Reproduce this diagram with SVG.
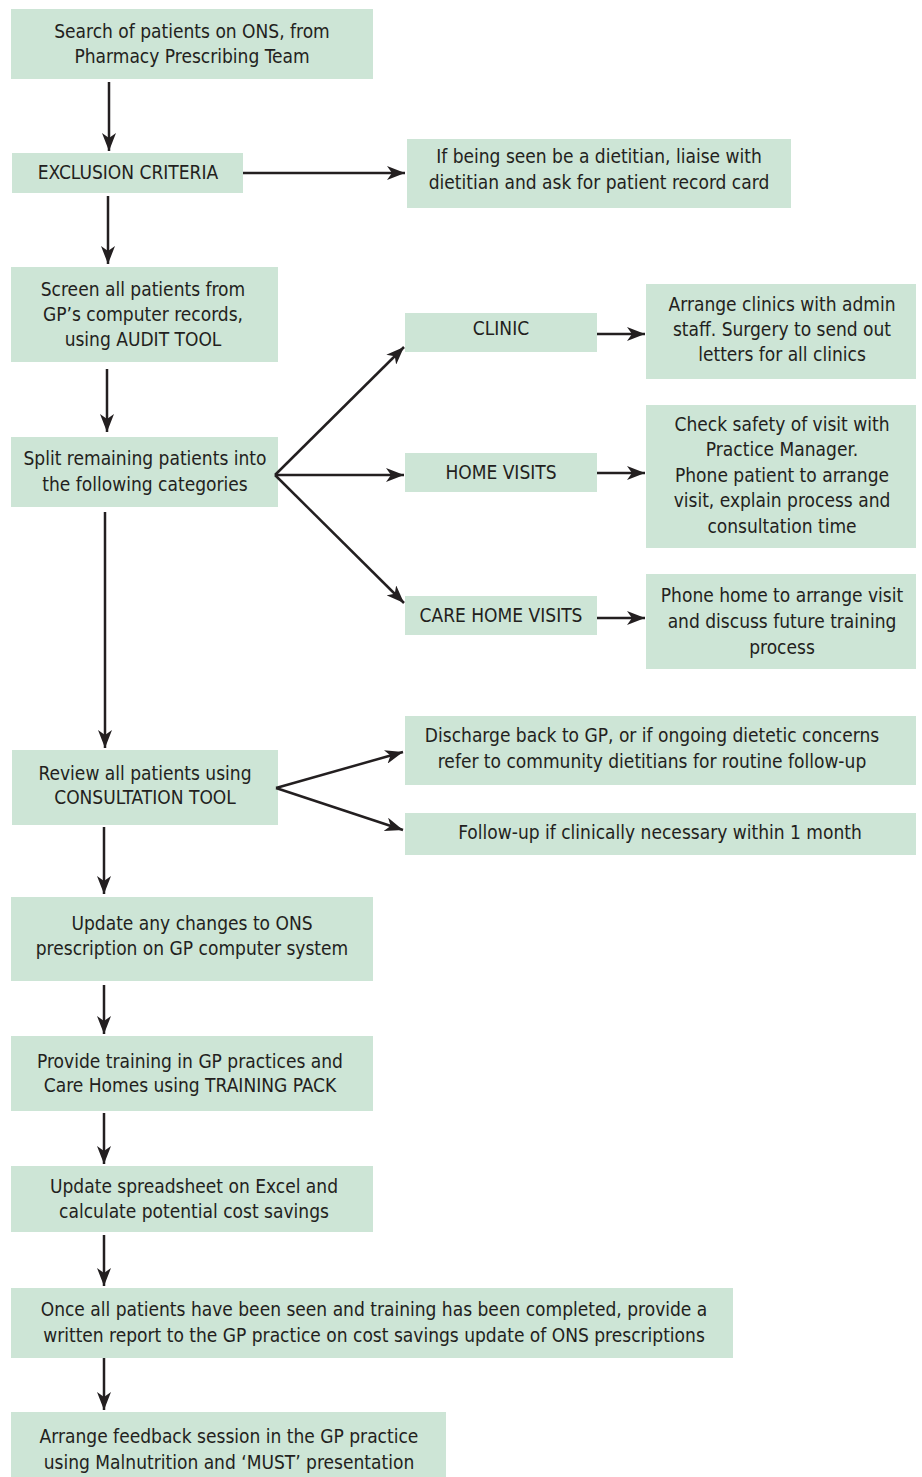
<svg xmlns="http://www.w3.org/2000/svg" width="922" height="1477" viewBox="0 0 922 1477">
<defs>
<style>
.b{fill:#cde5d6}
text{font-family:"DejaVu Sans Condensed","Liberation Sans Narrow",sans-serif;font-size:19px;fill:#231f20;text-anchor:middle;dominant-baseline:central}
.c line{stroke:#231f20;stroke-width:2.5;marker-end:url(#ah)}
</style>
<marker id="ah" markerUnits="userSpaceOnUse" markerWidth="20" markerHeight="14" viewBox="0 0 20 14" refX="18" refY="7" orient="auto">
<path d="M0,0 L18,7 L0,14 L5,7 Z" fill="#231f20"/>
</marker>
</defs>
<rect width="922" height="1477" fill="#fff"/>
<g id="n1"><rect class="b" x="11" y="9" width="362" height="70"/><text x="192" y="31">Search of patients on ONS, from</text><text x="192" y="56">Pharmacy Prescribing Team</text></g>
<g id="n2"><rect class="b" x="12" y="153" width="231" height="40"/><text x="128" y="172">EXCLUSION CRITERIA</text></g>
<g id="n3"><rect class="b" x="407" y="139" width="384" height="69"/><text x="599" y="156">If being seen be a dietitian, liaise with</text><text x="599" y="182">dietitian and ask for patient record card</text></g>
<g id="n4"><rect class="b" x="11" y="267" width="267" height="95"/><text x="143" y="289">Screen all patients from</text><text x="143" y="314">GP’s computer records,</text><text x="143" y="339">using AUDIT TOOL</text></g>
<g id="n5"><rect class="b" x="11" y="437" width="267" height="70"/><text x="145" y="458">Split remaining patients into</text><text x="145" y="484">the following categories</text></g>
<g id="n6"><rect class="b" x="405" y="313" width="192" height="39"/><text x="501" y="328">CLINIC</text></g>
<g id="n7"><rect class="b" x="405" y="453" width="192" height="39"/><text x="501" y="472">HOME VISITS</text></g>
<g id="n8"><rect class="b" x="405" y="596" width="192" height="39"/><text x="501" y="615">CARE HOME VISITS</text></g>
<g id="n9"><rect class="b" x="646" y="284" width="270" height="95"/><text x="782" y="304">Arrange clinics with admin</text><text x="782" y="329">staff. Surgery to send out</text><text x="782" y="354">letters for all clinics</text></g>
<g id="n10"><rect class="b" x="646" y="405" width="270" height="143"/><text x="782" y="424">Check safety of visit with</text><text x="782" y="449">Practice Manager.</text><text x="782" y="475">Phone patient to arrange</text><text x="782" y="500">visit, explain process and</text><text x="782" y="526">consultation time</text></g>
<g id="n11"><rect class="b" x="646" y="574" width="270" height="95"/><text x="782" y="595">Phone home to arrange visit</text><text x="782" y="621">and discuss future training</text><text x="782" y="647">process</text></g>
<g id="n12"><rect class="b" x="12" y="750" width="266" height="75"/><text x="145" y="773">Review all patients using</text><text x="145" y="797">CONSULTATION TOOL</text></g>
<g id="n13"><rect class="b" x="405" y="716" width="511" height="69"/><text x="652" y="735">Discharge back to GP, or if ongoing dietetic concerns</text><text x="652" y="761">refer to community dietitians for routine follow-up</text></g>
<g id="n14"><rect class="b" x="405" y="813" width="511" height="42"/><text x="660" y="832">Follow-up if clinically necessary within 1 month</text></g>
<g id="n15"><rect class="b" x="11" y="897" width="362" height="84"/><text x="192" y="923">Update any changes to ONS</text><text x="192" y="948">prescription on GP computer system</text></g>
<g id="n16"><rect class="b" x="11" y="1036" width="362" height="75"/><text x="190" y="1061">Provide training in GP practices and</text><text x="190" y="1085">Care Homes using TRAINING PACK</text></g>
<g id="n17"><rect class="b" x="11" y="1166" width="362" height="66"/><text x="194" y="1186">Update spreadsheet on Excel and</text><text x="194" y="1211">calculate potential cost savings</text></g>
<g id="n18"><rect class="b" x="11" y="1288" width="722" height="70"/><text x="374" y="1309">Once all patients have been seen and training has been completed, provide a</text><text x="374" y="1335">written report to the GP practice on cost savings update of ONS prescriptions</text></g>
<g id="n19"><rect class="b" x="11" y="1412" width="435" height="65"/><text x="229" y="1436">Arrange feedback session in the GP practice</text><text x="229" y="1462">using Malnutrition and ‘MUST’ presentation</text></g>
<g id="connectors" class="c">
<line x1="109" y1="82" x2="109" y2="151"/>
<line x1="243" y1="173" x2="405" y2="173"/>
<line x1="108" y1="196" x2="108" y2="264"/>
<line x1="107" y1="369" x2="107" y2="432"/>
<line x1="105" y1="512" x2="105" y2="748"/>
<line x1="275" y1="475" x2="404" y2="347"/>
<line x1="275" y1="475" x2="404" y2="475"/>
<line x1="275" y1="475" x2="404" y2="603"/>
<line x1="597" y1="334" x2="645" y2="334"/>
<line x1="597" y1="473" x2="645" y2="473"/>
<line x1="597" y1="618" x2="645" y2="618"/>
<line x1="276" y1="788" x2="403" y2="752"/>
<line x1="276" y1="788" x2="403" y2="830"/>
<line x1="104" y1="827" x2="104" y2="894"/>
<line x1="104" y1="985" x2="104" y2="1034"/>
<line x1="104" y1="1113" x2="104" y2="1164"/>
<line x1="104" y1="1235" x2="104" y2="1286"/>
<line x1="104" y1="1358" x2="104" y2="1410"/>
</g>
</svg>
